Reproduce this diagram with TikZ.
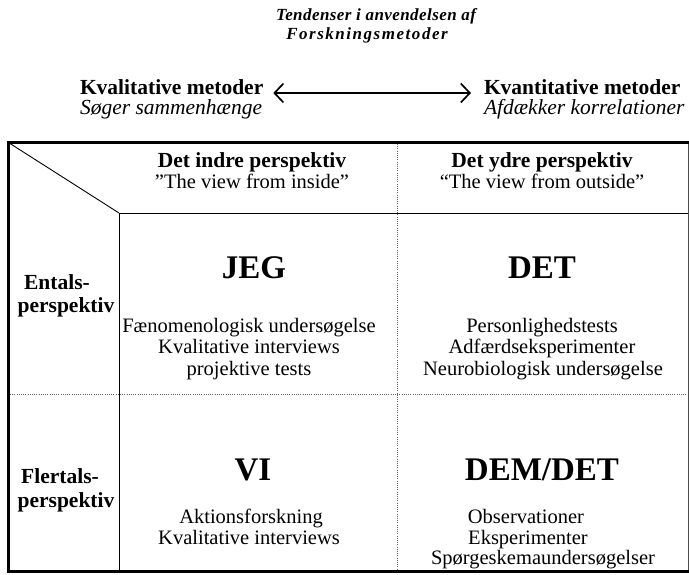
\documentclass[tikz,border=0pt]{standalone}
\usepackage{fontspec}
\setmainfont{Liberation Serif}
\newfontfamily\titlefontA[LetterSpace=2.5]{Liberation Serif}
\newfontfamily\titlefontB[LetterSpace=9]{Liberation Serif}
\usetikzlibrary{arrows.meta,calc}
\tikzset{
  txt/.style={inner sep=0pt, outer sep=0pt, anchor=base},
  reg/.style={txt, font=\fontsize{20.5}{22}\selectfont},
  bld/.style={txt, font=\fontsize{21.5}{24}\selectfont\bfseries},
  itl/.style={txt, font=\fontsize{21.5}{24}\selectfont\itshape},
  big/.style={txt, font=\fontsize{33}{36}\selectfont\bfseries},
  ttlA/.style={txt, font=\titlefontA\fontsize{17}{20}\selectfont\bfseries\itshape},
  ttlB/.style={txt, font=\titlefontB\fontsize{17}{20}\selectfont\bfseries\itshape},
  thick border/.style={line width=#1, line cap=rect},
  thin rule/.style={line width=0.9pt},
  dot rule/.style={line width=0.9pt, gray!80!black, dash pattern=on 1pt off 1.2pt},
  barb/.style={line width=1.7pt, {Straight Barb[length=9pt,width=19pt]}-{Straight Barb[length=9pt,width=19pt]}}
}
\begin{document}
\begin{tikzpicture}[x=1pt,y=-1pt]
\useasboundingbox (0,0) rectangle (689,574);
% title
\node[ttlA] (t1) at (376,20) {Tendenser i anvendelsen af};
\node[ttlB] (t2) at (367,39) {Forskningsmetoder};
% method headers
\node[bld, anchor=base west] (kvalA) at (80,94) {Kvalitative metoder};
\node[itl, anchor=base west] (kvalB) at (80,114) {Søger sammenhænge};
\node[bld, anchor=base west] (kvantA) at (484,94) {Kvantitative metoder};
\node[itl, anchor=base west] (kvantB) at (484,114) {Afdækker korrelationer};
\draw[barb] ($(kvalA.base east)+(10,-1)$) -- ($(kvantA.base west)+(-13,-1)$);
% table rules
\coordinate (tl) at (8.5,142.5);
\coordinate (tr) at (688,142.5);
\coordinate (bl) at (8.5,571.5);
\coordinate (br) at (688,571.5);
\coordinate (c1) at (119,213);
\draw[thin rule] (10,143.5) -- (c1);
\draw[thin rule] (c1) -- (688,213);
\draw[thin rule] (c1) -- (119,571);
\draw[dot rule] (10,394) -- (688,394);
\draw[dot rule] (397,144) -- (397,570);
\draw[line width=1pt, gray!60!black] (tr) -- (br);
\draw[thick border=2.5pt] (tl) -- (tr);
\draw[thick border=2.5pt] (bl) -- (br);
\draw[thick border=3.5pt] (tl) -- (bl);
% column headers
\node[bld] (h1) at (252,167) {Det indre perspektiv};
\node[reg] (h1b) at (252,188) {”The view from inside”};
\node[bld] (h2) at (542,167) {Det ydre perspektiv};
\node[reg] (h2b) at (542,188) {“The view from outside”};
% row labels
\node[bld] (r1a) at (57,289) {Entals-};
\node[bld] (r1b) at (66,312) {perspektiv};
\node[bld] (r2a) at (60,483) {Flertals-};
\node[bld] (r2b) at (66,507) {perspektiv};
% cell 1
\node[big] (jeg) at (254,278) {JEG};
\node[reg] (a1) at (249,332) {Fænomenologisk undersøgelse};
\node[reg] (a2) at (249,353.5) {Kvalitative interviews};
\node[reg] (a3) at (249,375) {projektive tests};
% cell 2
\node[big] (det) at (542,278) {DET};
\node[reg] (b1) at (542,332) {Personlighedstests};
\node[reg] (b2) at (542,353.5) {Adfærdseksperimenter};
\node[reg] (b3) at (543,375) {Neurobiologisk undersøgelse};
% cell 3
\node[big] (vi) at (253,480) {VI};
\node[reg] (c31) at (251,523) {Aktionsforskning};
\node[reg] (c32) at (249,544) {Kvalitative interviews};
% cell 4
\node[big] (dem) at (542,480) {DEM/DET};
\node[reg] (d1) at (526,523) {Observationer};
\node[reg] (d2) at (528,544) {Eksperimenter};
\node[reg] (d3) at (543,564.5) {Spørgeskemaundersøgelser};
\end{tikzpicture}
\end{document}
